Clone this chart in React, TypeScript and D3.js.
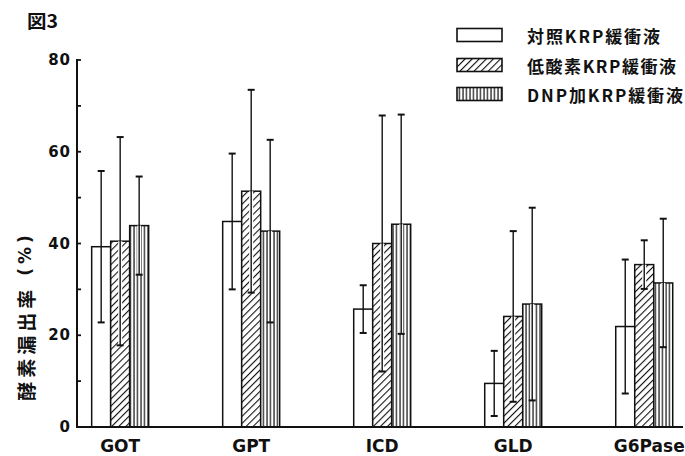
import React from "react";
import * as d3 from "d3";

const categories = ["GOT", "GPT", "ICD", "GLD", "G6Pase"];
const seriesNames = ["対照KRP緩衝液", "低酸素KRP緩衝液", "DNP加KRP緩衝液"];
const controlMean = [39.3, 44.8, 25.7, 9.5, 21.9];
const controlSD = [16.5, 14.8, 5.2, 7.1, 14.6];
const hypoxiaMean = [40.5, 51.4, 40.0, 24.1, 35.4];
const hypoxiaSD = [22.7, 22.1, 27.9, 18.6, 5.3];
const dnpMean = [43.9, 42.7, 44.2, 26.8, 31.4];
const dnpSD = [10.7, 19.9, 23.9, 21.0, 14.0];
const yTicks = [0, 20, 40, 60, 80];
const yMinorTicks = [10, 30, 50, 70];

const W = 685;
const H = 456;
const latin = "'DejaVu Sans', sans-serif";
const cjk = "'Noto Sans CJK JP', sans-serif";

const fills = ["#ffffff", "url(#hatch)", "url(#vstripe)"];
const legendTextLen = [133, 149, 156];

export default function App() {
  const x = d3
    .scaleBand<string>()
    .domain(categories)
    .range([77, 687.4])
    .paddingInner(0.565)
    .paddingOuter(0.112);
  const xs = d3
    .scaleBand<number>()
    .domain([0, 1, 2])
    .range([0, x.bandwidth()]);
  const y = d3.scaleLinear().domain([0, 80]).range([427, 60]);

  const means = [controlMean, hypoxiaMean, dnpMean];
  const sds = [controlSD, hypoxiaSD, dnpSD];

  const bars: React.ReactNode[] = [];
  const errs: React.ReactNode[] = [];
  categories.forEach((c, ci) => {
    means.forEach((m, si) => {
      const bx = (x(c) as number) + (xs(si) as number);
      const bw = xs.bandwidth();
      const v = m[ci];
      const sd = sds[si][ci];
      bars.push(
        <rect
          key={`b${ci}-${si}`}
          x={bx}
          y={y(v)}
          width={bw}
          height={y(0) - y(v)}
          fill={fills[si]}
          stroke="#111"
          strokeWidth={1.5}
        />
      );
      const cx = bx + bw / 2;
      const top = y(v + sd);
      const bot = y(Math.max(0, v - sd));
      errs.push(
        <g key={`e${ci}-${si}`}>
          {si > 0 && (
            <line x1={cx} x2={cx} y1={Math.max(top, y(v))} y2={bot} stroke="#fff" strokeWidth={4} />
          )}
          <line x1={cx} x2={cx} y1={top} y2={bot} stroke="#111" strokeWidth={1.4} />
          <line x1={cx - 3.5} x2={cx + 3.5} y1={top} y2={top} stroke="#111" strokeWidth={2} />
          <line x1={cx - 3.5} x2={cx + 3.5} y1={bot} y2={bot} stroke="#111" strokeWidth={2} />
        </g>
      );
    });
  });

  return (
    <svg
      width={W}
      height={H}
      style={{ position: "fixed", left: 0, top: 0, background: "#fff" }}
    >
      <defs>
        <pattern id="hatch" patternUnits="userSpaceOnUse" width={5} height={5} patternTransform="rotate(45)">
          <rect width={5} height={5} fill="#fff" />
          <line x1={0} y1={0} x2={0} y2={5} stroke="#111" strokeWidth={2.2} />
        </pattern>
        <pattern id="vstripe" patternUnits="userSpaceOnUse" width={3.5} height={10}>
          <rect width={3.5} height={10} fill="#fff" />
          <line x1={1} y1={0} x2={1} y2={10} stroke="#111" strokeWidth={1.2} />
        </pattern>
      </defs>

      {/* title */}
      <text x={27} y={28} fontFamily={cjk} fontWeight="bold" fontSize={18} textLength={31} lengthAdjust="spacingAndGlyphs" fill="#111">
        図3
      </text>

      {/* y axis */}
      <line x1={77} x2={77} y1={y(80) - 1} y2={y(0)} stroke="#111" strokeWidth={2} />
      {yTicks.concat(yMinorTicks).map((t) => (
        <line key={`t${t}`} x1={77} x2={81} y1={y(t)} y2={y(t)} stroke="#111" strokeWidth={1.8} />
      ))}
      {yTicks.map((t) => (
        <text
          key={`l${t}`}
          x={71}
          y={y(t)}
          textAnchor="end"
          dominantBaseline="central"
          fontFamily={latin}
          fontWeight="bold"
          fontSize={15}
          letterSpacing={1}
          fill="#111"
        >
          {t}
        </text>
      ))}
      <text
        transform={`translate(25,316) rotate(-90)`}
        textAnchor="middle"
        dominantBaseline="central"
        fontFamily={cjk}
        fontWeight="bold"
        fontSize={19}
        letterSpacing={4}
        fill="#111"
      >
        酵素漏出率<tspan fontFamily={latin} fontWeight="bold" fontSize={17}> (%)</tspan>
      </text>

      {bars}
      {errs}

      {/* baseline */}
      <line x1={76} x2={683} y1={y(0)} y2={y(0)} stroke="#111" strokeWidth={2} />

      {/* x labels */}
      {categories.map((c) => (
        <text
          key={`x${c}`}
          x={(x(c) as number) + x.bandwidth() / 2 + (c === "G6Pase" ? 5 : 0)}
          y={452}
          textAnchor="middle"
          fontFamily={latin}
          fontWeight="bold"
          fontSize={17}
          fill="#111"
        >
          {c}
        </text>
      ))}

      {/* legend */}
      {seriesNames.map((s, i) => {
        const ly = [35, 65, 94][i];
        return (
          <g key={`lg${i}`}>
            <rect x={457} y={ly - 6.5} width={45} height={13} fill={fills[i]} stroke="#111" strokeWidth={1.6} />
            <text
              x={527}
              y={ly}
              dominantBaseline="central"
              fontFamily={cjk}
              fontWeight="bold"
              fontSize={17}
              textLength={legendTextLen[i]}
              lengthAdjust="spacing"
              fill="#111"
            >
              {s}
            </text>
          </g>
        );
      })}
    </svg>
  );
}
